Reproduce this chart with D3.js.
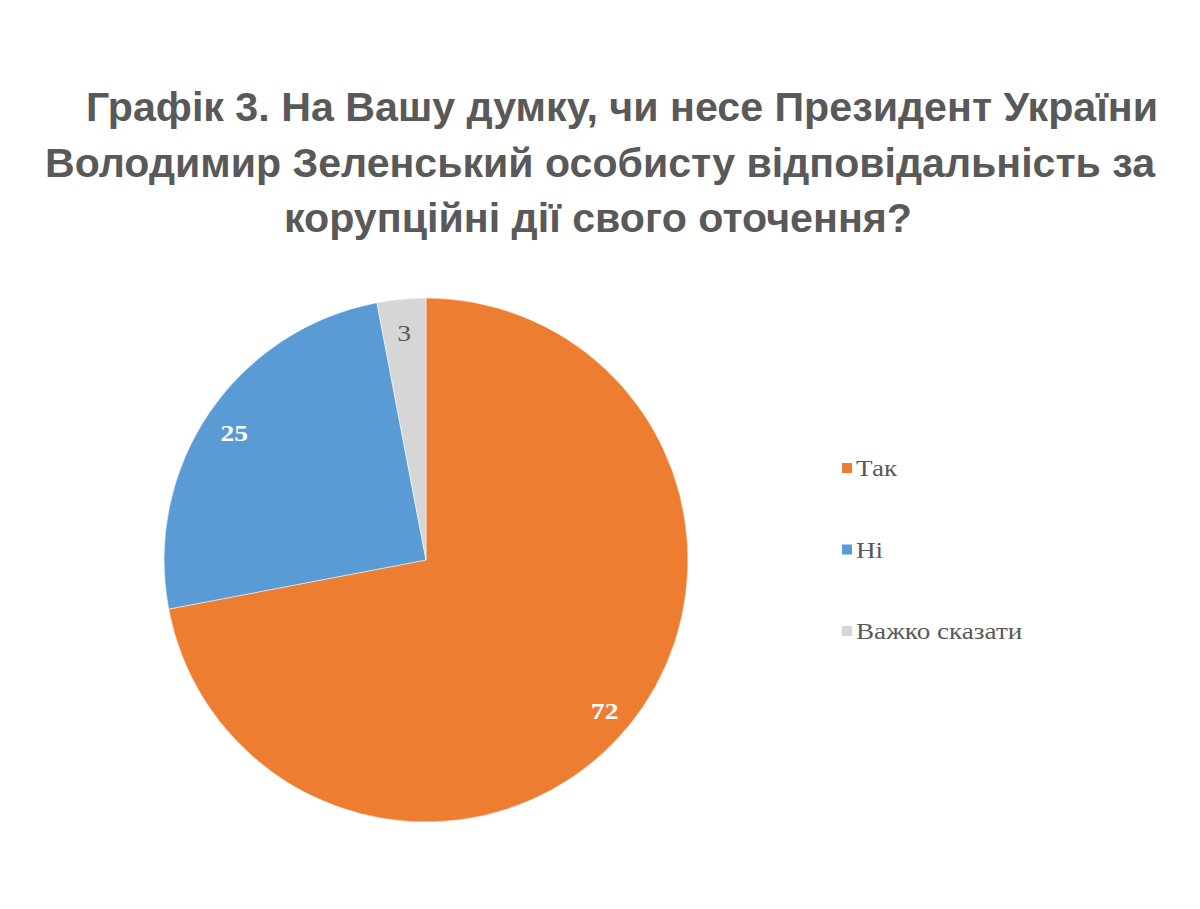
<!DOCTYPE html>
<html>
<head>
<meta charset="utf-8">
<title>Графік 3</title>
<script src="https://d3js.org/d3.v7.min.js"></script>
<style>
  body { margin: 0; background: #fff; }
  svg { display: block; }
</style>
</head>
<body>
<div id="chart"></div>
<script>
// data
var categories = ["Так", "Ні", "Важко сказати"];
var values = [72, 25, 3];
var colors = ["#ED7D31", "#5B9BD5", "#D6D6D6"];
var labelColors = ["#ffffff", "#ffffff", "#595959"];
var titleLines = [
  "Графік 3. На Вашу думку, чи несе Президент України",
  "Володимир Зеленський особисту відповідальність за",
  "корупційні дії свого оточення?"
];

var width = 1200, height = 909;

var svg = d3.select("#chart")
  .append("svg")
  .attr("width", width)
  .attr("height", height);

// title - each line placed on its own, stretched to the reference widths
var titleSpec = [
  {x: 86, y: 121, len: 1072},
  {x: 45, y: 177, len: 1110},
  {x: 284, y: 232, len: 628}
];
svg.selectAll("text.title")
  .data(titleLines)
  .enter()
  .append("text")
  .attr("class", "title")
  .attr("x", function(d, i) { return titleSpec[i].x })
  .attr("y", function(d, i) { return titleSpec[i].y })
  .attr("textLength", function(d, i) { return titleSpec[i].len })
  .attr("lengthAdjust", "spacingAndGlyphs")
  .attr("font-family", "Liberation Sans, Arial, sans-serif")
  .attr("font-weight", "bold")
  .attr("font-size", 40)
  .attr("fill", "#595959")
  .text(function(d) { return d });

// pie
var cx = 426, cy = 560, radius = 262;

var data = categories.map(function(c, i) { return {name: c, value: values[i], i: i} });

var pie = d3.pie()
  .sort(null)
  .value(function(d) { return d.value });

var arc = d3.arc()
  .innerRadius(0)
  .outerRadius(radius);

var labelArc = d3.arc()
  .innerRadius(radius * 0.885)
  .outerRadius(radius * 0.885);

var g = svg.append("g")
  .attr("transform", "translate(" + cx + "," + cy + ")");

var slices = g.selectAll("g.slice")
  .data(pie(data))
  .enter()
  .append("g")
  .attr("class", "slice");

slices.append("path")
  .attr("d", arc)
  .attr("fill", function(d) { return colors[d.data.i] })
  .attr("stroke", "#ffffff")
  .attr("stroke-width", 0.5);

// labels are a bit wider than plain Times, so stretch them sideways
slices.append("text")
  .attr("transform", function(d) {
    var c = labelArc.centroid(d);
    return "translate(" + c[0] + "," + (c[1] + 3) + ") scale(1.15,1)";
  })
  .attr("text-anchor", "middle")
  .attr("dy", "0.35em")
  .attr("font-family", "Liberation Serif, Times New Roman, serif")
  .attr("font-weight", function(d) { return d.data.i == 2 ? "normal" : "bold" })
  .attr("font-size", 24)
  .attr("fill", function(d) { return labelColors[d.data.i] })
  .text(function(d) { return d.data.value });

// legend
var legend = svg.append("g")
  .attr("transform", "translate(842,468)");

var items = legend.selectAll("g.item")
  .data(categories)
  .enter()
  .append("g")
  .attr("class", "item")
  .attr("transform", function(d, i) { return "translate(0," + (i * 81.5) + ")" });

items.append("rect")
  .attr("x", 0)
  .attr("y", -5)
  .attr("width", 10)
  .attr("height", 10)
  .attr("fill", function(d, i) { return colors[i] });

items.append("text")
  .attr("transform", "translate(14,0) scale(1.18,1)")
  .attr("dy", "0.35em")
  .attr("font-family", "Liberation Serif, Times New Roman, serif")
  .attr("font-size", 23)
  .attr("fill", "#595959")
  .text(function(d) { return d });
</script>
</body>
</html>
